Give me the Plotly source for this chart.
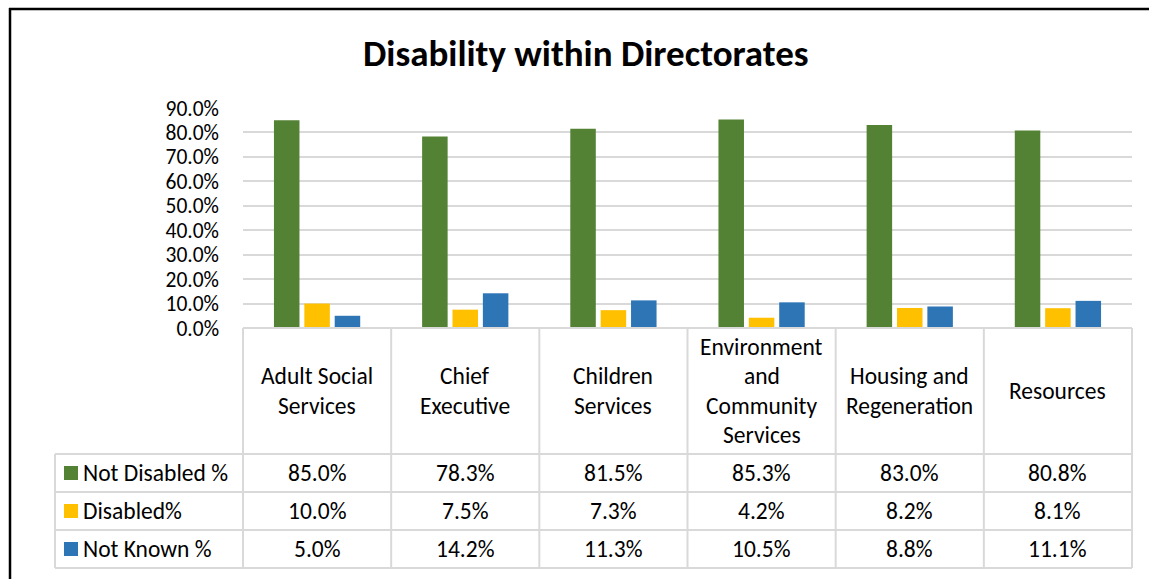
import plotly.graph_objects as go

# ---- data ----
directorates = [
    "Adult Social\nServices",
    "Chief\nExecutive",
    "Children\nServices",
    "Environment\nand\nCommunity\nServices",
    "Housing and\nRegeneration",
    "Resources",
]
series_names = ["Not Disabled %", "Disabled%", "Not Known %"]
not_disabled = [0.850, 0.783, 0.815, 0.853, 0.830, 0.808]
disabled = [0.100, 0.075, 0.073, 0.042, 0.082, 0.081]
not_known = [0.050, 0.142, 0.113, 0.105, 0.088, 0.111]
series_values = [not_disabled, disabled, not_known]
series_colors = ["#548235", "#FFC000", "#2E75B6"]

# ---- layout geometry (pixels) ----
W, H = 1149, 579
L, R, T, B = 243, 1132, 108, 328        # plot area
LEG_LEFT = 55                            # left edge of the data-table legend column
HEAD_BOTTOM = 454                        # bottom of category header row
ROW_H = 38
FONT = "Carlito, Calibri, Lato, sans-serif"
GRID = "#D9D9D9"
TABLE_SIZE = 23.5


def px(x):
    return (x - L) / (R - L)


def py(y):
    return (B - y) / (B - T)


fig = go.Figure()
n = len(directorates)
for name, vals, col in zip(series_names, series_values, series_colors):
    fig.add_trace(go.Bar(
        x=list(range(n)), y=vals, name=name,
        marker=dict(color=col, line=dict(width=0)),
        showlegend=False,
    ))

shapes = []
annotations = []

# outer chart frame
shapes.append(dict(type="line", xref="paper", yref="paper",
                   x0=px(10), x1=px(10), y0=py(8), y1=py(H + 5),
                   line=dict(color="black", width=2.5)))
shapes.append(dict(type="line", xref="paper", yref="paper",
                   x0=px(9), x1=px(W + 5), y0=py(9), y1=py(9),
                   line=dict(color="black", width=2.5)))

# data table grid
n_rows = len(series_names)
table_bottom = HEAD_BOTTOM + n_rows * ROW_H
line_style = dict(color=GRID, width=2)
# horizontal lines
shapes.append(dict(type="line", xref="paper", yref="paper",
                   x0=0, x1=1, y0=py(B), y1=py(B), line=line_style))
for r in range(n_rows + 1):
    yy = HEAD_BOTTOM + r * ROW_H
    shapes.append(dict(type="line", xref="paper", yref="paper",
                       x0=px(LEG_LEFT), x1=1, y0=py(yy), y1=py(yy), line=line_style))
# vertical lines
for c in range(n + 1):
    xx = c / n
    shapes.append(dict(type="line", xref="paper", yref="paper",
                       x0=xx, x1=xx, y0=py(B), y1=py(table_bottom), line=line_style))
shapes.append(dict(type="line", xref="paper", yref="paper",
                   x0=px(LEG_LEFT), x1=px(LEG_LEFT), y0=py(HEAD_BOTTOM),
                   y1=py(table_bottom), line=line_style))

# category header labels, one annotation per line for Excel-like spacing
head_center = (B + HEAD_BOTTOM) / 2
line_gap = 29.5
for c, label in enumerate(directorates):
    lines = label.split("\n")
    xc = (c + 0.5) / n
    for k, txt in enumerate(lines):
        yy = head_center + (k - (len(lines) - 1) / 2) * line_gap
        annotations.append(dict(xref="paper", yref="paper", x=xc, y=py(yy),
                                text=txt, showarrow=False, xanchor="center",
                                yanchor="middle",
                                font=dict(family=FONT, size=TABLE_SIZE, color="black")))

# legend keys and values
for r, (name, vals, col) in enumerate(zip(series_names, series_values, series_colors)):
    yc = HEAD_BOTTOM + (r + 0.5) * ROW_H
    shapes.append(dict(type="rect", xref="paper", yref="paper",
                       x0=px(64), x1=px(78), y0=py(yc - 7), y1=py(yc + 7),
                       fillcolor=col, line=dict(width=0)))
    annotations.append(dict(xref="paper", yref="paper", x=px(81), y=py(yc),
                            text=name, showarrow=False, xanchor="left",
                            yanchor="middle",
                            font=dict(family=FONT, size=TABLE_SIZE, color="black")))
    for c, v in enumerate(vals):
        annotations.append(dict(xref="paper", yref="paper", x=(c + 0.5) / n,
                                y=py(yc), text=f"{v * 100:.1f}%", showarrow=False,
                                xanchor="center", yanchor="middle",
                                font=dict(family=FONT, size=TABLE_SIZE, color="black")))

# title
annotations.append(dict(xref="paper", yref="paper", x=px(586), y=py(53),
                        text="<b>Disability within Directorates</b>", showarrow=False,
                        xanchor="center", yanchor="middle",
                        font=dict(family=FONT, size=37, color="black")))

fig.update_layout(
    width=W, height=H,
    margin=dict(l=L, r=W - R, t=T, b=H - B, pad=0),
    paper_bgcolor="white", plot_bgcolor="white",
    barmode="group", bargap=0.385, bargroupgap=0.16,
    shapes=shapes, annotations=annotations,
    xaxis=dict(range=[-0.5, n - 0.5], showticklabels=False, showgrid=False,
               zeroline=False, showline=False, fixedrange=True),
    yaxis=dict(range=[0, 0.9], dtick=0.1, tickformat=".1%",
               showgrid=True, gridcolor=GRID, gridwidth=2,
               zeroline=False, showline=False, ticks="",
               ticklabelstandoff=23,
               tickfont=dict(family=FONT, size=21.5, color="black"),
               fixedrange=True),
)

fig.write_html("out.html")
